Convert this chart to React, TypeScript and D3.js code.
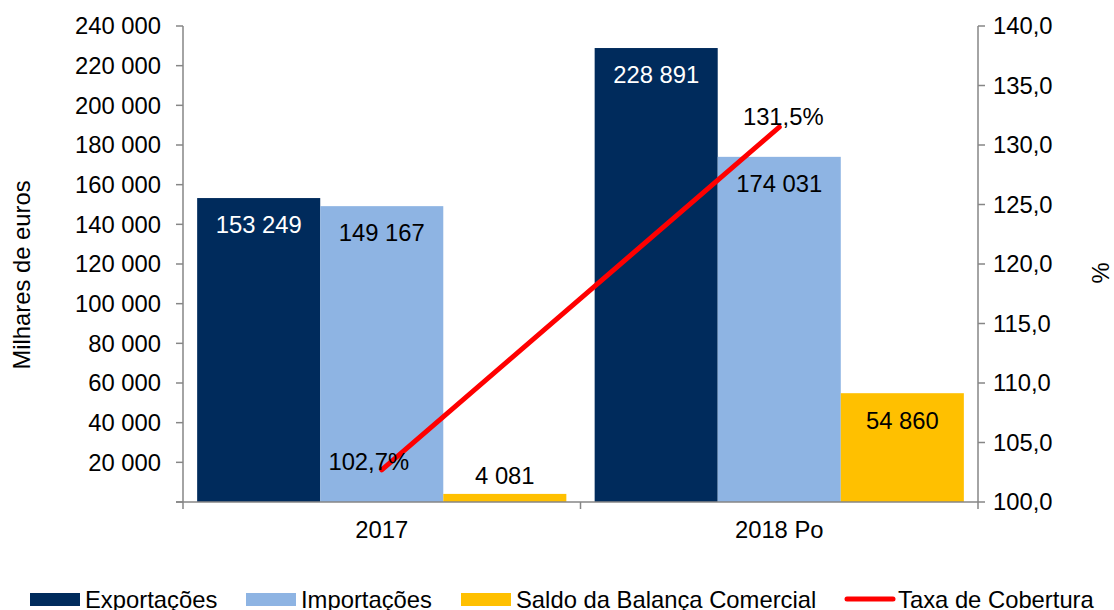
import * as d3 from "d3";
import React from "react";

const categories = ["2017", "2018 Po"];
const seriesNames = ["Exportações", "Importações", "Saldo da Balança Comercial"];
const exportacoes = [153249, 228891];
const importacoes = [149167, 174031];
const saldo = [4081, 54860];
const taxaCobertura = [102.7, 131.5];
const leftTicks = d3.range(0, 240001, 20000);
const rightTicks = d3.range(100, 140.1, 5);

const colors = ["#002B5C", "#8EB4E3", "#FFC000"];
const lineColor = "#FF0000";
const axisColor = "#868686";
const font = "'Liberation Sans', Arial, sans-serif";

const width = 1114;
const height = 610;
const left = 183;
const right = 978;
const top = 26;
const bottom = 502;

const fmtThousands = (v: number) =>
  d3.format(",")(v).replace(/,/g, " ");
const fmtPct = (v: number) => v.toFixed(1).replace(".", ",");

const App: React.FC = () => {
  const x0 = d3.scaleBand<string>().domain(categories).range([left, right]);
  const x1 = d3
    .scaleBand<string>()
    .domain(seriesNames)
    .range([0, x0.bandwidth()])
    .paddingInner(0)
    .paddingOuter(0.115);
  const y = d3.scaleLinear().domain([0, 240000]).range([bottom, top]);
  const y2 = d3.scaleLinear().domain([100, 140]).range([bottom, top]);

  const values = [exportacoes, importacoes, saldo];

  const line = d3
    .line<number>()
    .x((_, i) => (x0(categories[i]) as number) + x0.bandwidth() / 2)
    .y((d) => y2(d));

  const fs = 23.8;

  return (
    <svg width={width} height={height} style={{ position: "absolute", left: 0, top: 0 }} fontFamily={font}>
      <rect width={width} height={height} fill="#fff" />

      {/* bars */}
      {categories.map((c, ci) =>
        seriesNames.map((s, si) => {
          const v = values[si][ci];
          const bx = (x0(c) as number) + (x1(s) as number);
          return (
            <rect
              key={c + s}
              x={bx}
              y={y(v)}
              width={x1.bandwidth()}
              height={bottom - y(v)}
              fill={colors[si]}
            />
          );
        })
      )}

      {/* left axis */}
      <line x1={left} x2={left} y1={top} y2={bottom} stroke={axisColor} strokeWidth={1.5} />
      {leftTicks.map((t) => (
        <g key={t}>
          <line x1={left - 7} x2={left} y1={y(t)} y2={y(t)} stroke={axisColor} strokeWidth={1.5} />
          {t > 0 && (
            <text x={left - 22} y={y(t)} dy="0.35em" textAnchor="end" fontSize={fs} fill="#000">
              {fmtThousands(t)}
            </text>
          )}
        </g>
      ))}

      {/* right axis */}
      <line x1={right} x2={right} y1={top} y2={bottom} stroke={axisColor} strokeWidth={1.5} />
      {rightTicks.map((t) => (
        <g key={t}>
          <line x1={right} x2={right + 7} y1={y2(t)} y2={y2(t)} stroke={axisColor} strokeWidth={1.5} />
          <text x={right + 15} y={y2(t)} dy="0.35em" textAnchor="start" fontSize={fs} fill="#000">
            {fmtPct(t)}
          </text>
        </g>
      ))}

      {/* bottom axis */}
      <line x1={left - 7} x2={right} y1={bottom} y2={bottom} stroke={axisColor} strokeWidth={1.5} />
      {[left, left + x0.bandwidth(), right].map((tx) => (
        <line key={tx} x1={tx} x2={tx} y1={bottom} y2={bottom + 7} stroke={axisColor} strokeWidth={1.5} />
      ))}
      {categories.map((c) => (
        <text
          key={c}
          x={(x0(c) as number) + x0.bandwidth() / 2}
          y={530}
          dy="0.35em"
          textAnchor="middle"
          fontSize={fs}
          fill="#000"
        >
          {c}
        </text>
      ))}

      {/* bar labels */}
      {categories.map((c, ci) =>
        seriesNames.map((s, si) => {
          const v = values[si][ci];
          const cx = (x0(c) as number) + (x1(s) as number) + x1.bandwidth() / 2;
          const small = bottom - y(v) < 40;
          const ly = small ? y(v) - 18 : y(v) + 27;
          return (
            <text
              key={"l" + c + s}
              x={cx}
              y={ly}
              dy="0.35em"
              textAnchor="middle"
              fontSize={fs}
              fill={si === 0 ? "#fff" : "#000"}
            >
              {fmtThousands(v)}
            </text>
          );
        })
      )}

      {/* line */}
      <path
        d={line(taxaCobertura) as string}
        fill="none"
        stroke={lineColor}
        strokeWidth={5}
        strokeLinecap="round"
      />
      {taxaCobertura.map((v, i) => (
        <text
          key={"t" + i}
          x={(x0(categories[i]) as number) + x0.bandwidth() / 2 + (i === 0 ? -13 : 4)}
          y={y2(v) - (i === 0 ? 8 : 10)}
          dy="0.35em"
          textAnchor="middle"
          fontSize={fs}
          fill="#000"
        >
          {fmtPct(v) + "%"}
        </text>
      ))}

      {/* axis titles */}
      <text
        transform={`translate(22, 275) rotate(-90)`}
        dy="0.35em"
        textAnchor="middle"
        fontSize={fs}
        fill="#000"
      >
        Milhares de euros
      </text>
      <text
        transform={`translate(1101, 273) rotate(-90)`}
        dy="0.35em"
        textAnchor="middle"
        fontSize={fs}
        fill="#000"
      >
        %
      </text>

      {/* legend */}
      {[30, 246, 461].map((lx, i) => (
        <g key={"lg" + i}>
          <rect x={lx} y={593} width={50} height={13} fill={colors[i]} />
          <text x={lx + 55} y={600} dy="0.35em" fontSize={fs} fill="#000">
            {seriesNames[i]}
          </text>
        </g>
      ))}
      <line x1={847} x2={893} y1={599} y2={599} stroke={lineColor} strokeWidth={5} strokeLinecap="round" />
      <text x={898} y={600} dy="0.35em" fontSize={fs} fill="#000">
        Taxa de Cobertura
      </text>
    </svg>
  );
};

export default App;
